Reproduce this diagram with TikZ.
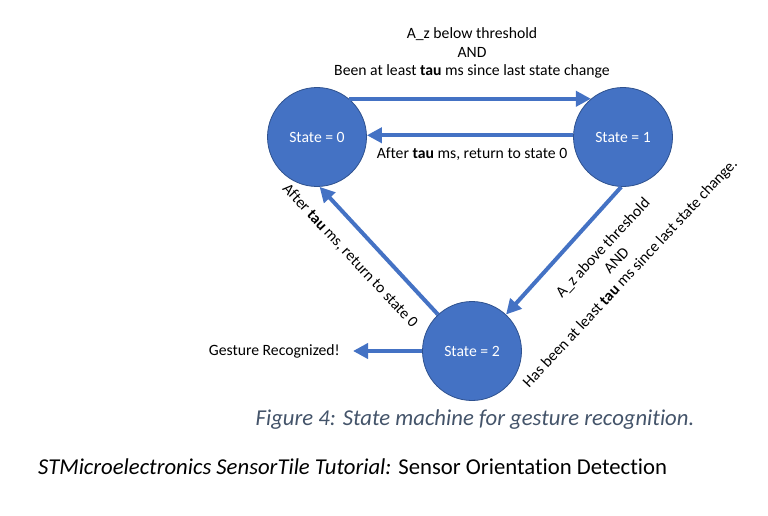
\documentclass[tikz,border=0pt]{standalone}
\usepackage{fontspec}
\setmainfont{Carlito}[Ligatures=NoCommon]
\usepackage{xcolor}
\usetikzlibrary{arrows.meta,positioning}
\definecolor{StateBlue}{HTML}{4472C4}
\definecolor{StateEdge}{HTML}{2F528F}
\definecolor{CaptionGray}{HTML}{44546A}
\newcommand{\tauword}{\textbf{tau}}

\begin{document}
\begin{tikzpicture}[
  x=1pt, y=-1pt,
  state/.style={circle, draw=StateEdge, line width=0.8pt, fill=StateBlue, text=white, minimum size=99pt, inner sep=0pt, font=\fontsize{15.7}{18.5}\selectfont},
  lbl/.style={align=center, inner sep=0pt, font=\fontsize{15.7}{18.5}\selectfont},
  big/.style={inner sep=0pt, font=\fontsize{22.7}{27}\selectfont},
  arr/.style={-{Triangle[length=15pt, width=15pt]}, line width=4pt, draw=StateBlue}
]
  \useasboundingbox (0,0) rectangle (768,516);
  \node[state] (s0) at (317,137) {State = 0};
  \node[state] (s1) at (623,137) {State = 1};
  \node[state] (s2) at (472,351) {State = 2};
  \node[lbl] (above01) at (472,53) {A\_z below threshold\\AND\\Been at least \tauword{} ms since last state change};
  \node[lbl] (below10) at (472,154) {After \tauword{} ms, return to state 0};
  \node[lbl, rotate=-47] (back20) at (350,256) {After \tauword{} ms, return to state 0};
  \node[lbl, rotate=47] (cond12) at (617,261) {A\_z above threshold\\AND\\Has been at least \tauword{} ms since last state change.};
  \node[lbl, anchor=east, inner xsep=13pt] (gest) at (353,351) {Gesture Recognized!};
  \node[big, text=CaptionGray] (caption) at (475,420) {\itshape Figure 4: State machine for gesture recognition.};
  \node[big, anchor=west] (footer) at (38,467) {\textit{STMicroelectronics SensorTile Tutorial:} Sensor Orientation Detection};
  \draw[arr] (s0.50) -- (s1.130);
  \draw[arr] (s1.178) -- (s0.2);
  \draw[arr] (s1.-92) -- (s2.47);
  \draw[arr] (s2.133) -- (s0.-87);
  \draw[arr] (s2.west) -- (gest.east);
\end{tikzpicture}
\end{document}
